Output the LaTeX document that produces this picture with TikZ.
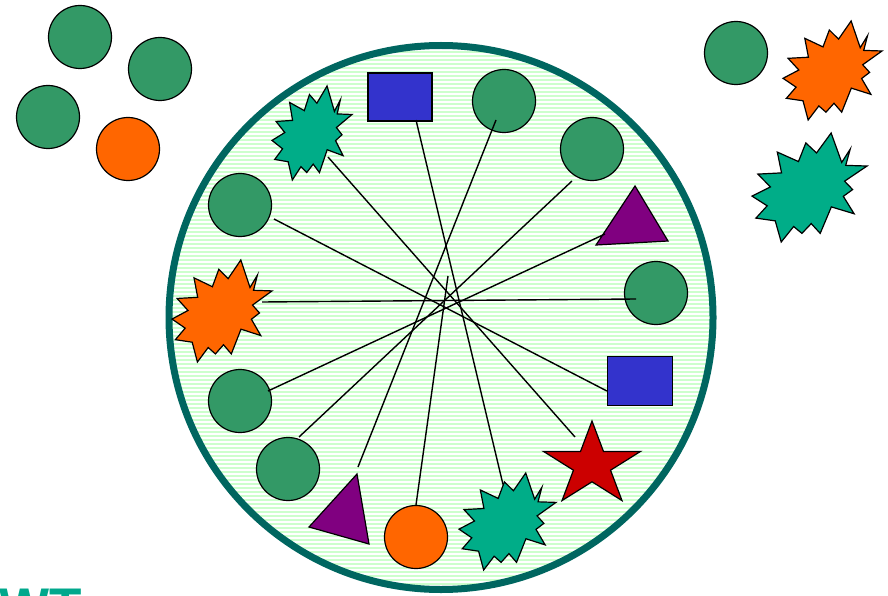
\documentclass[tikz,border=0pt]{standalone}
\usepackage{fontspec}
\usetikzlibrary{shapes.geometric,calc}
\newfontfamily\titlefont{Liberation Sans}
\definecolor{ringgreen}{RGB}{0,102,96}
\definecolor{padgreen}{RGB}{204,255,204}
\definecolor{dotgreen}{RGB}{51,153,102}
\definecolor{dotorange}{RGB}{255,102,0}
\definecolor{burstteal}{RGB}{0,173,136}
\definecolor{boxblue}{RGB}{51,51,204}
\definecolor{tripurple}{RGB}{128,0,128}
\definecolor{starred}{RGB}{204,0,0}
\definecolor{titleteal}{RGB}{0,168,140}
% name, x, y, width, height, colour
\newcommand{\drawburst}[6]{%
  \coordinate (#1) at (#2,#3);
  \filldraw[fill=#6,line width=1.2,shift={(#2,#3)},xscale=#4,yscale=#5]
    (0.188,-0.500)--(0.280,-0.230)--(0.354,-0.352)--(0.315,-0.203)--(0.500,-0.197)
    --(0.305,-0.058)--(0.375,0.019)--(0.294,0.081)--(0.388,0.241)--(0.190,0.178)
    --(0.093,0.421)--(0.015,0.331)--(-0.066,0.421)--(-0.138,0.358)--(-0.246,0.500)
    --(-0.298,0.306)--(-0.466,0.281)--(-0.368,0.168)--(-0.500,0.079)--(-0.340,-0.005)
    --(-0.449,-0.123)--(-0.243,-0.134)--(-0.280,-0.325)--(-0.096,-0.238)--(-0.032,-0.409)
    --(0.061,-0.317)--cycle;}
\begin{document}
\begin{tikzpicture}[x=1pt,y=-1pt,
  dot/.style={circle,draw,line width=1.2,minimum size=63,inner sep=0},
  box/.style={rectangle,draw,line width=1.2,inner sep=0,fill=boxblue},
  link/.style={line width=1.4}]
  \useasboundingbox (0,0) rectangle (888,596);
  % pad
  \path[fill=padgreen] (441,317.5) circle (272pt);
  \begin{scope}
    \clip (441,317.5) circle (272pt);
    \foreach \y in {46,50,...,590} \draw[white,line width=1.4] (160,\y)--(720,\y);
  \end{scope}
  \draw[ringgreen,line width=7] (441,317.5) circle (272pt);
  % outside
  \node[dot,fill=dotgreen] (g1) at (80,37) {};
  \node[dot,fill=dotgreen] (g2) at (160,69) {};
  \node[dot,fill=dotgreen] (g3) at (48,117) {};
  \node[dot,fill=dotorange] (o1) at (128,149) {};
  \node[dot,fill=dotgreen] (g4) at (736,53) {};
  \drawburst{u1}{832.5}{70.5}{99}{99}{dotorange}
  \drawburst{u2}{809.5}{187.5}{115}{109}{burstteal}
  % inside
  \drawburst{bA}{312}{133}{80}{94}{burstteal}
  \node[box,minimum width=64,minimum height=48] (sqA) at (400,97) {};
  \node[dot,fill=dotgreen] (gA) at (504,101) {};
  \node[dot,fill=dotgreen] (gB) at (592,149) {};
  \coordinate (triAa) at (635,186);
  \coordinate (triAb) at (668,241);
  \coordinate (triAc) at (596,245);
  \filldraw[fill=tripurple,line width=1.2] (triAa)--(triAb)--(triAc)--cycle;
  \node[dot,fill=dotgreen] (gC) at (656,293) {};
  \node[box,minimum width=65,minimum height=49] (sqB) at (640,381) {};
  \node[star,star points=5,star point ratio=2.618,minimum size=88,inner sep=0,
    xscale=1.16,draw,line width=1.2,fill=starred] (st) at (592,465) {};
  \drawburst{bB}{507.5}{521.5}{97}{97}{burstteal}
  \node[dot,fill=dotorange] (oA) at (416,537) {};
  \coordinate (triBa) at (357,474);
  \coordinate (triBb) at (309,527);
  \coordinate (triBc) at (369,544);
  \filldraw[fill=tripurple,line width=1.2] (triBa)--(triBb)--(triBc)--cycle;
  \node[dot,fill=dotgreen] (gD) at (288,469) {};
  \node[dot,fill=dotgreen] (gE) at (240,401) {};
  \drawburst{bC}{222}{311}{100}{102}{dotorange}
  \node[dot,fill=dotgreen] (gF) at (240,205) {};
  % links
  \coordinate (hub) at (448,276);
  \draw[link] ($(bA)+(16,24)$)--($(st)+(-17,-28)$);
  \draw[link] ($(sqA)+(16,23)$)--($(bB)+(-4.5,-37)$);
  \draw[link] ($(gA)+(-8,19)$)--($(triBa)+(1,-7)$);
  \draw[link] ($(gB)+(-20,32)$)--($(gD)+(11,-32)$);
  \draw[link] ($(triAc)+(9,-11)$)--($(gE)+(28,-10)$);
  \draw[link] ($(gC)+(-20,6)$)--($(bC)+(40,-9)$);
  \draw[link] ($(sqB.west)+(0,10)$)--($(gF)+(34,14)$);
  \draw[link] (oA.north)--(hub);
  \node[anchor=base west,inner sep=0,text=titleteal,
    font=\titlefont\bfseries\fontsize{53}{60}\selectfont] (title) at (-1,625) {WT};
\end{tikzpicture}
\end{document}
